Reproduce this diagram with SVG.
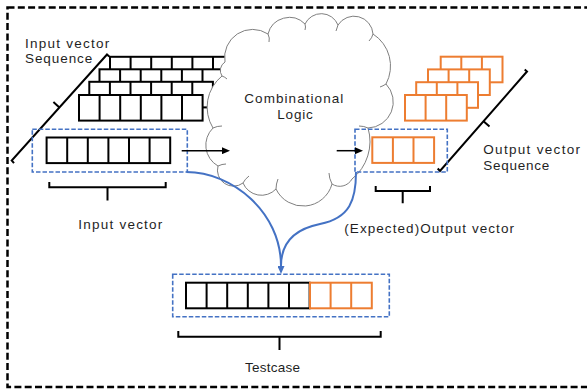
<svg xmlns="http://www.w3.org/2000/svg" xmlns:xlink="http://www.w3.org/1999/xlink" width="587" height="390" viewBox="0 0 587 390">
  <style>
    .frame { fill: none; stroke: #000; stroke-width: 2.5; stroke-dasharray: 7 3.3; }
    .cell { fill: #fff; stroke: #000; stroke-width: 2; }
    .ocell { fill: #fff; stroke: #ED7D31; stroke-width: 2; }
    .sel { fill: none; stroke: #4472C4; stroke-width: 1.6; stroke-dasharray: 4.5 2; }
    .brace { fill: none; stroke: #000; stroke-width: 2; }
    .cloud { fill: #fff; stroke: #7F7F7F; stroke-width: 1; }
    .wire { fill: none; stroke: #000; stroke-width: 1.5; }
    .link { fill: none; stroke: #4472C4; stroke-width: 2; }
    .t { font-family: "Liberation Sans", Arial, sans-serif; font-size: 13.5px; fill: #1f1f1f; }
  </style>
  <defs>
    <!-- 6-bit input word -->
    <g id="word6">
      <rect class="cell" x="0" y="0" width="123.6" height="25.6"/>
      <path class="cell" d="M20.6,0V25.6M41.2,0V25.6M61.8,0V25.6M82.4,0V25.6M103,0V25.6"/>
    </g>
    <!-- 3-bit output word -->
    <g id="word3">
      <rect class="ocell" x="0" y="0" width="61.8" height="25.6"/>
      <path class="ocell" d="M20.6,0V25.6M41.2,0V25.6"/>
    </g>
    <marker id="arrowK" markerUnits="userSpaceOnUse" markerWidth="8" markerHeight="7" refX="0" refY="3.5" orient="auto">
      <path d="M0,0L8,3.5L0,7z" fill="#000"/>
    </marker>
    <marker id="arrowB" markerUnits="userSpaceOnUse" markerWidth="8" markerHeight="7" refX="0" refY="3.5" orient="auto">
      <path d="M0,0L8,3.5L0,7z" fill="#4472C4"/>
    </marker>
  </defs>

  <!-- outer dashed frame -->
  <rect class="frame" x="7.5" y="7.5" width="600" height="379.5"/>

  <!-- stack of input words -->
  <g id="input-sequence">
    <use xlink:href="#word6" x="110" y="56.8"/>
    <use xlink:href="#word6" x="99.5" y="69.3"/>
    <use xlink:href="#word6" x="89.3" y="81.8"/>
    <use xlink:href="#word6" x="79" y="95"/>
    <path class="brace" d="M14,163.2L11.7,160.5L107,54.5L109.2,56.5M59.4,107.5L53.4,102.1"/>
    <text class="t" x="25" y="47.7" textLength="84.3" lengthAdjust="spacing">Input vector</text>
    <text class="t" x="25" y="63.3" textLength="67.3" lengthAdjust="spacing">Sequence</text>
  </g>

  <!-- combinational logic cloud -->
  <g id="logic">
    <path class="cloud" d="M225,62A28,28 0 0 1 268,34A22,22 0 0 1 305,24A18,18 0 0 1 338,25A19,19 0 0 1 373,34A38,38 0 0 1 386,84A26,26 0 0 1 368,128A48,48 0 0 1 352,179A14,14 0 0 1 332,184A30,30 0 0 1 276,189A20,20 0 0 1 243,183A16,16 0 0 1 218,166A24,24 0 0 1 213,128A40,40 0 0 1 222,76A10,10 0 0 1 225,62Z"/>
    <path class="cloud" fill="none" d="M268,34q2,4 1,8M305,24q1,3 0,6M338,25q-1,3 -2,6M373,34q-1,4 -4,7M386,84q-3,2 -6,3M368,128q-4,-2 -9,-2M332,184q-3,-6 -3,-11M276,189q0,-5 2,-10M243,183q2,-4 6,-7M218,166q4,-2 8,-2M213,128q4,-2 9,-2M222,76q3,1 5,3"/>
    <text class="t" x="244.3" y="103" textLength="99" lengthAdjust="spacing">Combinational</text>
    <text class="t" x="277.3" y="118.8" textLength="35.4" lengthAdjust="spacing">Logic</text>
  </g>

  <!-- current input vector -->
  <g id="input-vector">
    <rect class="sel" x="32.3" y="129.3" width="155" height="42.7"/>
    <use xlink:href="#word6" x="46.6" y="137.5"/>
    <path class="brace" d="M49.3,182V187.3H165.7V182M107.5,187.3V200.5"/>
    <text class="t" x="78.3" y="229" textLength="84" lengthAdjust="spacing">Input vector</text>
  </g>

  <!-- stack of output words -->
  <g id="output-sequence">
    <use xlink:href="#word3" x="440.7" y="56.7"/>
    <use xlink:href="#word3" x="428" y="69.4"/>
    <use xlink:href="#word3" x="416.2" y="82.2"/>
    <use xlink:href="#word3" x="405" y="95"/>
    <path class="brace" d="M437.7,168.5L440,171L527,71.5L524.7,69.5M483.5,121.2L489.5,126.5"/>
    <text class="t" x="483.3" y="154" textLength="96.7" lengthAdjust="spacing">Output vector</text>
    <text class="t" x="483.3" y="169.5" textLength="66" lengthAdjust="spacing">Sequence</text>
  </g>

  <!-- expected output vector -->
  <g id="output-vector">
    <rect class="sel" x="355" y="129.3" width="92.3" height="42.7"/>
    <use xlink:href="#word3" x="372.3" y="137.3"/>
    <path class="brace" d="M375.7,186V191H430V186M402.7,191V203.3"/>
    <text class="t" x="344.3" y="232.6" textLength="169.7" lengthAdjust="spacing">(Expected)Output vector</text>
  </g>

  <!-- testcase = input bits + expected output bits -->
  <g id="testcase">
    <rect class="sel" x="172.7" y="274.3" width="216.6" height="42.4"/>
    <use xlink:href="#word6" x="186" y="282.7"/>
    <use xlink:href="#word3" x="310" y="282.7"/>
    <path class="brace" d="M178.3,331V336.7H380.7V331M279.5,336.7V350"/>
    <text class="t" x="245" y="372.3" textLength="55" lengthAdjust="spacing">Testcase</text>
  </g>

  <!-- connectors -->
  <g id="connectors">
    <path class="wire" d="M181.7,150.7H222" marker-end="url(#arrowK)"/>
    <path class="wire" d="M336.7,150.7H355" marker-end="url(#arrowK)"/>
    <path class="link" d="M186.5,172C232,172 281,212 281,266" marker-end="url(#arrowB)"/>
    <path class="link" d="M356,172C356,200 350,218 320,224C295,229 281,243 281,266"/>
  </g>
</svg>
